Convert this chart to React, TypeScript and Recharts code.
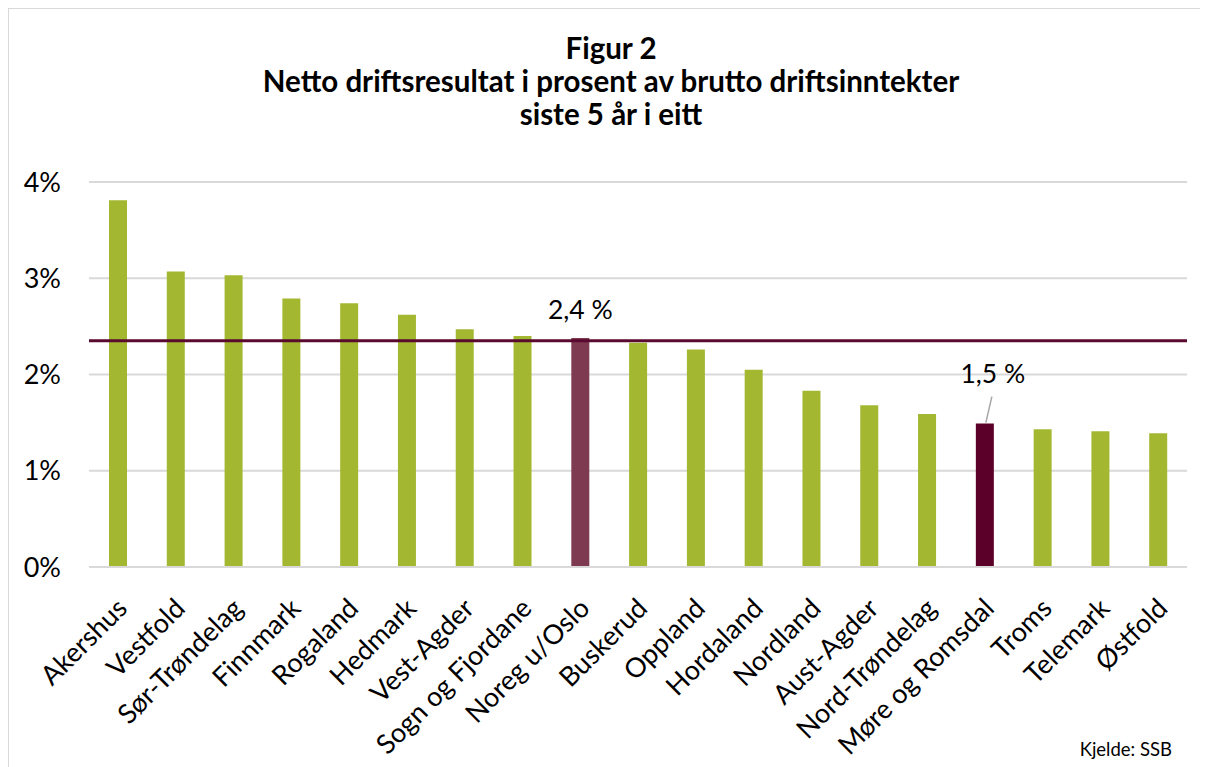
import React from "react";
import {
  BarChart,
  Bar,
  XAxis,
  YAxis,
  CartesianGrid,
  Cell,
  LabelList,
  ReferenceLine,
} from "recharts";

// ===== Data =====
const fylker = [
  "Akershus",
  "Vestfold",
  "Sør-Trøndelag",
  "Finnmark",
  "Rogaland",
  "Hedmark",
  "Vest-Agder",
  "Sogn og Fjordane",
  "Noreg u/Oslo",
  "Buskerud",
  "Oppland",
  "Hordaland",
  "Nordland",
  "Aust-Agder",
  "Nord-Trøndelag",
  "Møre og Romsdal",
  "Troms",
  "Telemark",
  "Østfold",
];

const nettoResultat = [
  3.81, 3.07, 3.03, 2.79, 2.74, 2.62, 2.47, 2.4, 2.38, 2.33, 2.26, 2.05, 1.83,
  1.68, 1.59, 1.49, 1.43, 1.41, 1.39,
];

const yTicks = [0, 1, 2, 3, 4];
const snittNoreg = 2.35;

const labelTekst: Record<string, string> = {
  "Noreg u/Oslo": "2,4 %",
  "Møre og Romsdal": "1,5 %",
};

const GREEN = "#a3b830";
const NOREG = "#7d3a51";
const MORE = "#5a0029";
const LINE = "#5a0a2e";
const FONT = "Lato, 'Open Sans', sans-serif";

const data = fylker.map((name, i) => ({ name, value: nettoResultat[i] }));

const barColor = (name: string) =>
  name === "Noreg u/Oslo" ? NOREG : name === "Møre og Romsdal" ? MORE : GREEN;

// ===== Skrå etikettar på x-aksen =====
const SkraTick = (props: any) => {
  const { x, y, payload } = props;
  return (
    <g transform={`translate(${x + 11},${y + 35})`}>
      <text
        transform="rotate(-45)"
        textAnchor="end"
        fontSize={27}
        fontFamily={FONT}
        fill="#000"
      >
        {payload.value}
      </text>
    </g>
  );
};

// ===== Verdietikett for utvalde stolpar =====
const VerdiLabel = (props: any) => {
  const { x, y, width, value } = props;
  const txt = labelTekst[value];
  if (!txt) return null;
  const cx = x + width / 2;
  if (value === "Møre og Romsdal") {
    return (
      <g>
        <line x1={cx + 1} y1={y - 1} x2={cx + 7} y2={y - 27} stroke="#a6a6a6" strokeWidth={1.5} />
        <text x={cx + 8} y={y - 41} textAnchor="middle" fontSize={26.5} fontFamily={FONT} fill="#000">
          {txt}
        </text>
      </g>
    );
  }
  return (
    <text x={cx} y={y - 19} textAnchor="middle" fontSize={26.5} fontFamily={FONT} fill="#000">
      {txt}
    </text>
  );
};

export default function App() {
  return (
    <div
      style={{
        position: "relative",
        width: 1199,
        height: 758,
        borderTop: "1px solid #d9d9d9",
        borderLeft: "1px solid #d9d9d9",
        background: "#fff",
      }}
    >
      <BarChart
        width={1199}
        height={758}
        data={data}
        margin={{ top: 173, right: 21, bottom: 0, left: 0 }}
      >
        <CartesianGrid vertical={false} stroke="#d9d9d9" strokeWidth={2} />
        <XAxis
          dataKey="name"
          interval={0}
          height={200}
          tickLine={false}
          axisLine={{ stroke: "#d9d9d9", strokeWidth: 2 }}
          tick={<SkraTick />}
        />
        <YAxis
          width={80}
          domain={[0, 4]}
          ticks={yTicks}
          tickFormatter={(v: number) => `${v}%`}
          axisLine={false}
          tickLine={false}
          tickSize={0}
          tickMargin={28}
          tick={{ fontSize: 27, fontFamily: FONT, fill: "#000" }}
        />
        <Bar dataKey="value" barSize={18} isAnimationActive={false}>
          {data.map((d) => (
            <Cell key={d.name} fill={barColor(d.name)} />
          ))}
          <LabelList dataKey="name" content={<VerdiLabel />} />
        </Bar>
        <ReferenceLine y={snittNoreg} stroke={LINE} strokeWidth={3} />
      </BarChart>
      <svg
        width={1199}
        height={758}
        style={{ position: "absolute", left: 0, top: 0, pointerEvents: "none" }}
      >
        <g fontFamily={FONT} fontWeight="bold" fontSize={29.5} textAnchor="middle" fill="#000">
          <text x={602} y={50}>Figur 2</text>
          <text x={602} y={83}>Netto driftsresultat i prosent av brutto driftsinntekter</text>
          <text x={602} y={116}>siste 5 år i eitt</text>
        </g>
        <text x={1163} y={747} textAnchor="end" fontFamily={FONT} fontSize={18.5} fill="#000">
          Kjelde: SSB
        </text>
      </svg>
    </div>
  );
}
